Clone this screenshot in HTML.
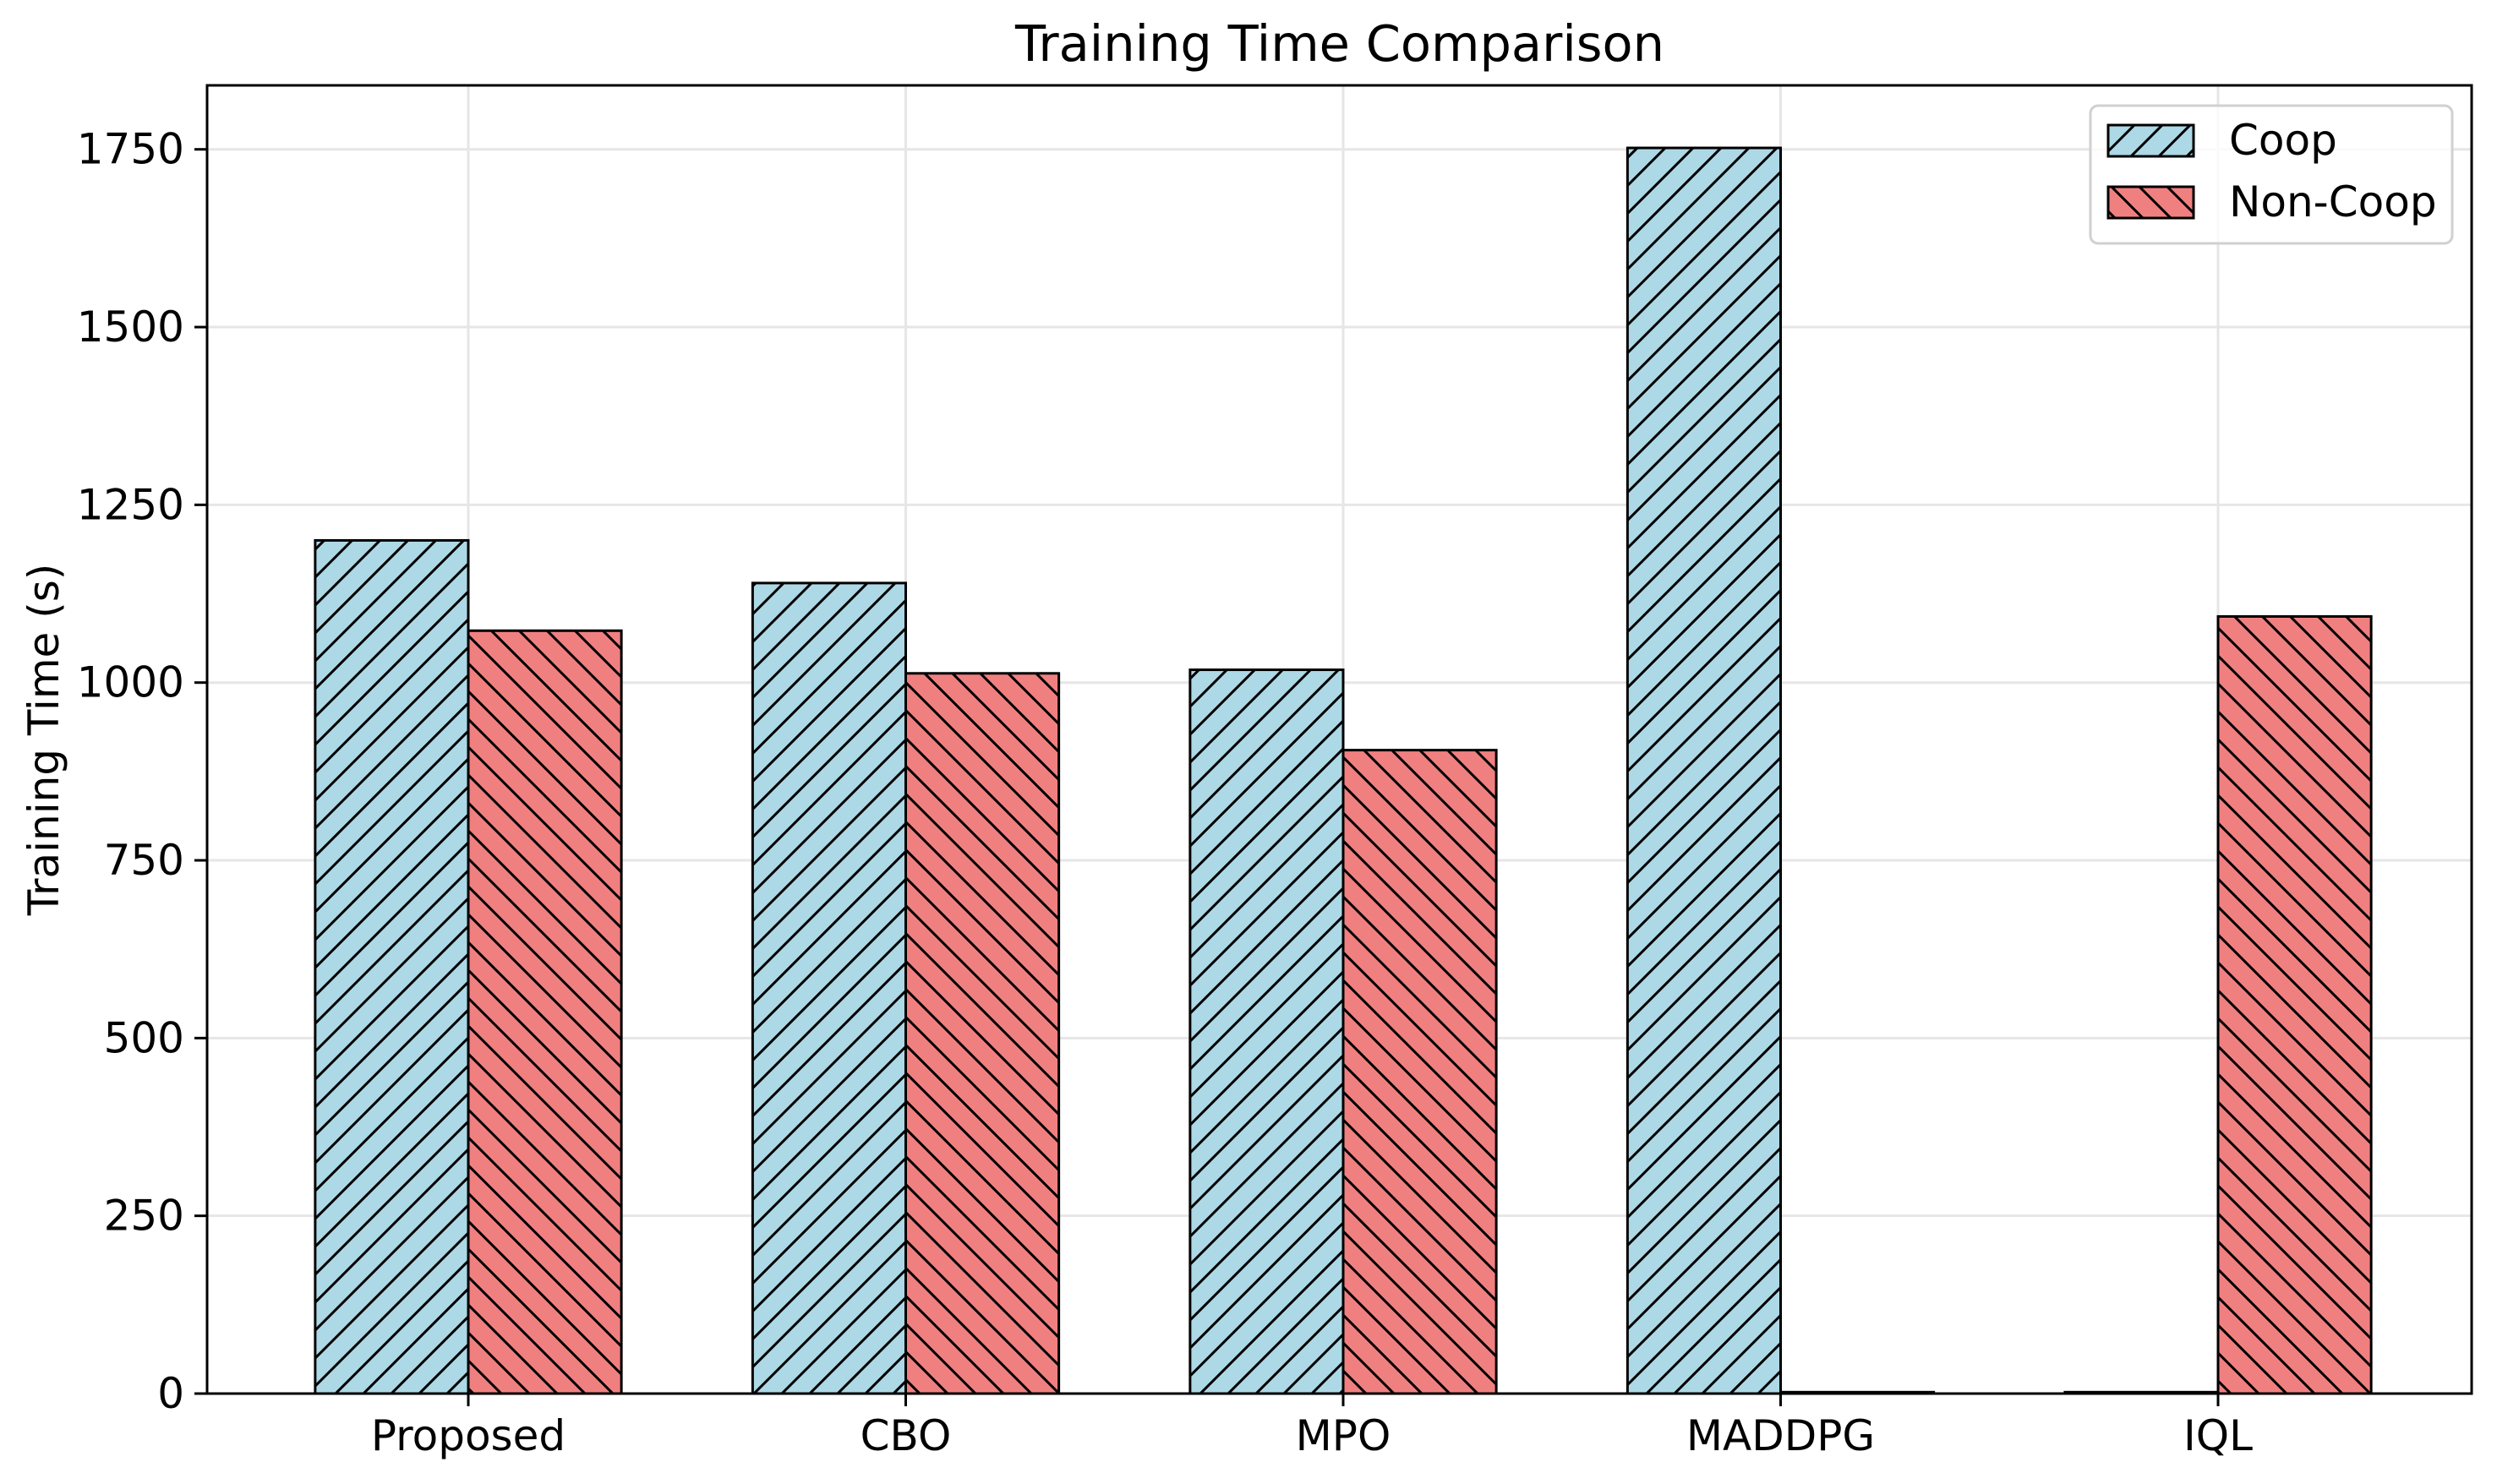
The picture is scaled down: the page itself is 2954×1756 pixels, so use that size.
<!DOCTYPE html>
<html><head><meta charset="utf-8"><style>
html,body{margin:0;padding:0;background:#fff;}
svg{display:block;font-family:"DejaVu Sans","Liberation Sans",sans-serif;}
</style></head><body>
<svg id="chart" width="2954" height="1756" viewBox="0 0 2954 1756" xmlns="http://www.w3.org/2000/svg">
<defs>
<pattern id="hatchF" patternUnits="userSpaceOnUse" width="33" height="33">
<rect width="33" height="33" fill="#add8e6"/>
<path d="M-3,36 L36,-3 M-3,3 L3,-3 M30,36 L36,30" stroke="#000" stroke-width="3"/>
</pattern>
<pattern id="hatchB" patternUnits="userSpaceOnUse" width="33" height="33">
<rect width="33" height="33" fill="#f08080"/>
<path d="M-3,-3 L36,36 M30,-3 L36,3 M-3,30 L3,36" stroke="#000" stroke-width="3"/>
</pattern>
</defs>
<rect width="2954" height="1756" fill="#fff"/>
<g id="grid"></g>
<g id="bars"></g>
<g id="axes"></g>
<text x="1585" y="72" font-size="59" text-anchor="middle">Training Time Comparison</text>
<text transform="translate(52,875) rotate(-90)" font-size="50" text-anchor="middle" dominant-baseline="central">Training Time (s)</text>
<g>
<rect x="2473" y="125" width="428" height="163" rx="9" fill="#fff" fill-opacity="0.8" stroke="#d0d0d0" stroke-width="3"/>
<rect x="2494" y="148" width="101" height="37" fill="url(#hatchF)" stroke="#000" stroke-width="3"/>
<text x="2637" y="183" font-size="50">Coop</text>
<rect x="2494" y="221" width="101" height="37" fill="url(#hatchB)" stroke="#000" stroke-width="3"/>
<text x="2637" y="256" font-size="50">Non-Coop</text>
</g>
</svg>
<script>
const categories = ["Proposed", "CBO", "MPO", "MADDPG", "IQL"];
const coopValues = [1200, 1140, 1018, 1752, 2];
const nonCoopValues = [1073, 1013, 905, 2, 1093];
const yTicks = [0, 250, 500, 750, 1000, 1250, 1500, 1750];

const NS = "http://www.w3.org/2000/svg";
const L = 245, R = 2924, T = 101, B = 1649;
const yMax = 1840;
const xStart = 554, xStep = 517.5, barW = 0.35;
function xScale(i) { return xStart + i * xStep; }
function yScale(v) { return B - (v / yMax) * (B - T); }
function mk(tag, attrs, parent) {
  const e = document.createElementNS(NS, tag);
  for (const k in attrs) e.setAttribute(k, attrs[k]);
  parent.appendChild(e);
  return e;
}
const grid = document.getElementById("grid");
const bars = document.getElementById("bars");
const axes = document.getElementById("axes");

yTicks.forEach(function (t) {
  const y = yScale(t);
  const g = mk("line", {x1: L, x2: R, y1: y, y2: y, stroke: "#e6e6e6", "stroke-width": 3}, grid);
  
  
  const tk = mk("line", {x1: L - 15, x2: L, y1: y, y2: y, stroke: "#000", "stroke-width": 3}, axes);
  
  
  const tx = mk("text", {x: L - 27, y: y, "font-size": 50, "text-anchor": "end", "dominant-baseline": "central"}, axes);
  tx.textContent = t;
  
  
});
categories.forEach(function (c, i) {
  const x = xScale(i);
  const g = mk("line", {x1: x, x2: x, y1: T, y2: B, stroke: "#e6e6e6", "stroke-width": 3}, grid);
  
  
  const w = barW * xStep;
  const yc = yScale(coopValues[i]);
  const b1 = mk("rect", {x: x - w, y: yc, width: w, height: B - yc, fill: "url(#hatchF)", stroke: "#000", "stroke-width": 3}, bars);
  
  
  const yn = yScale(nonCoopValues[i]);
  const b2 = mk("rect", {x: x, y: yn, width: w, height: B - yn, fill: "url(#hatchB)", stroke: "#000", "stroke-width": 3}, bars);
  
  
  const tk = mk("line", {x1: x, x2: x, y1: B, y2: B + 15, stroke: "#000", "stroke-width": 3}, axes);
  
  
  const tx = mk("text", {x: x, y: B + 67, "font-size": 50, "text-anchor": "middle"}, axes);
  tx.textContent = c;
  
  
});
const frame = mk("rect", {x: L, y: T, width: R - L, height: B - T, fill: "none", stroke: "#000", "stroke-width": 3}, axes);


</script>
</body></html>
